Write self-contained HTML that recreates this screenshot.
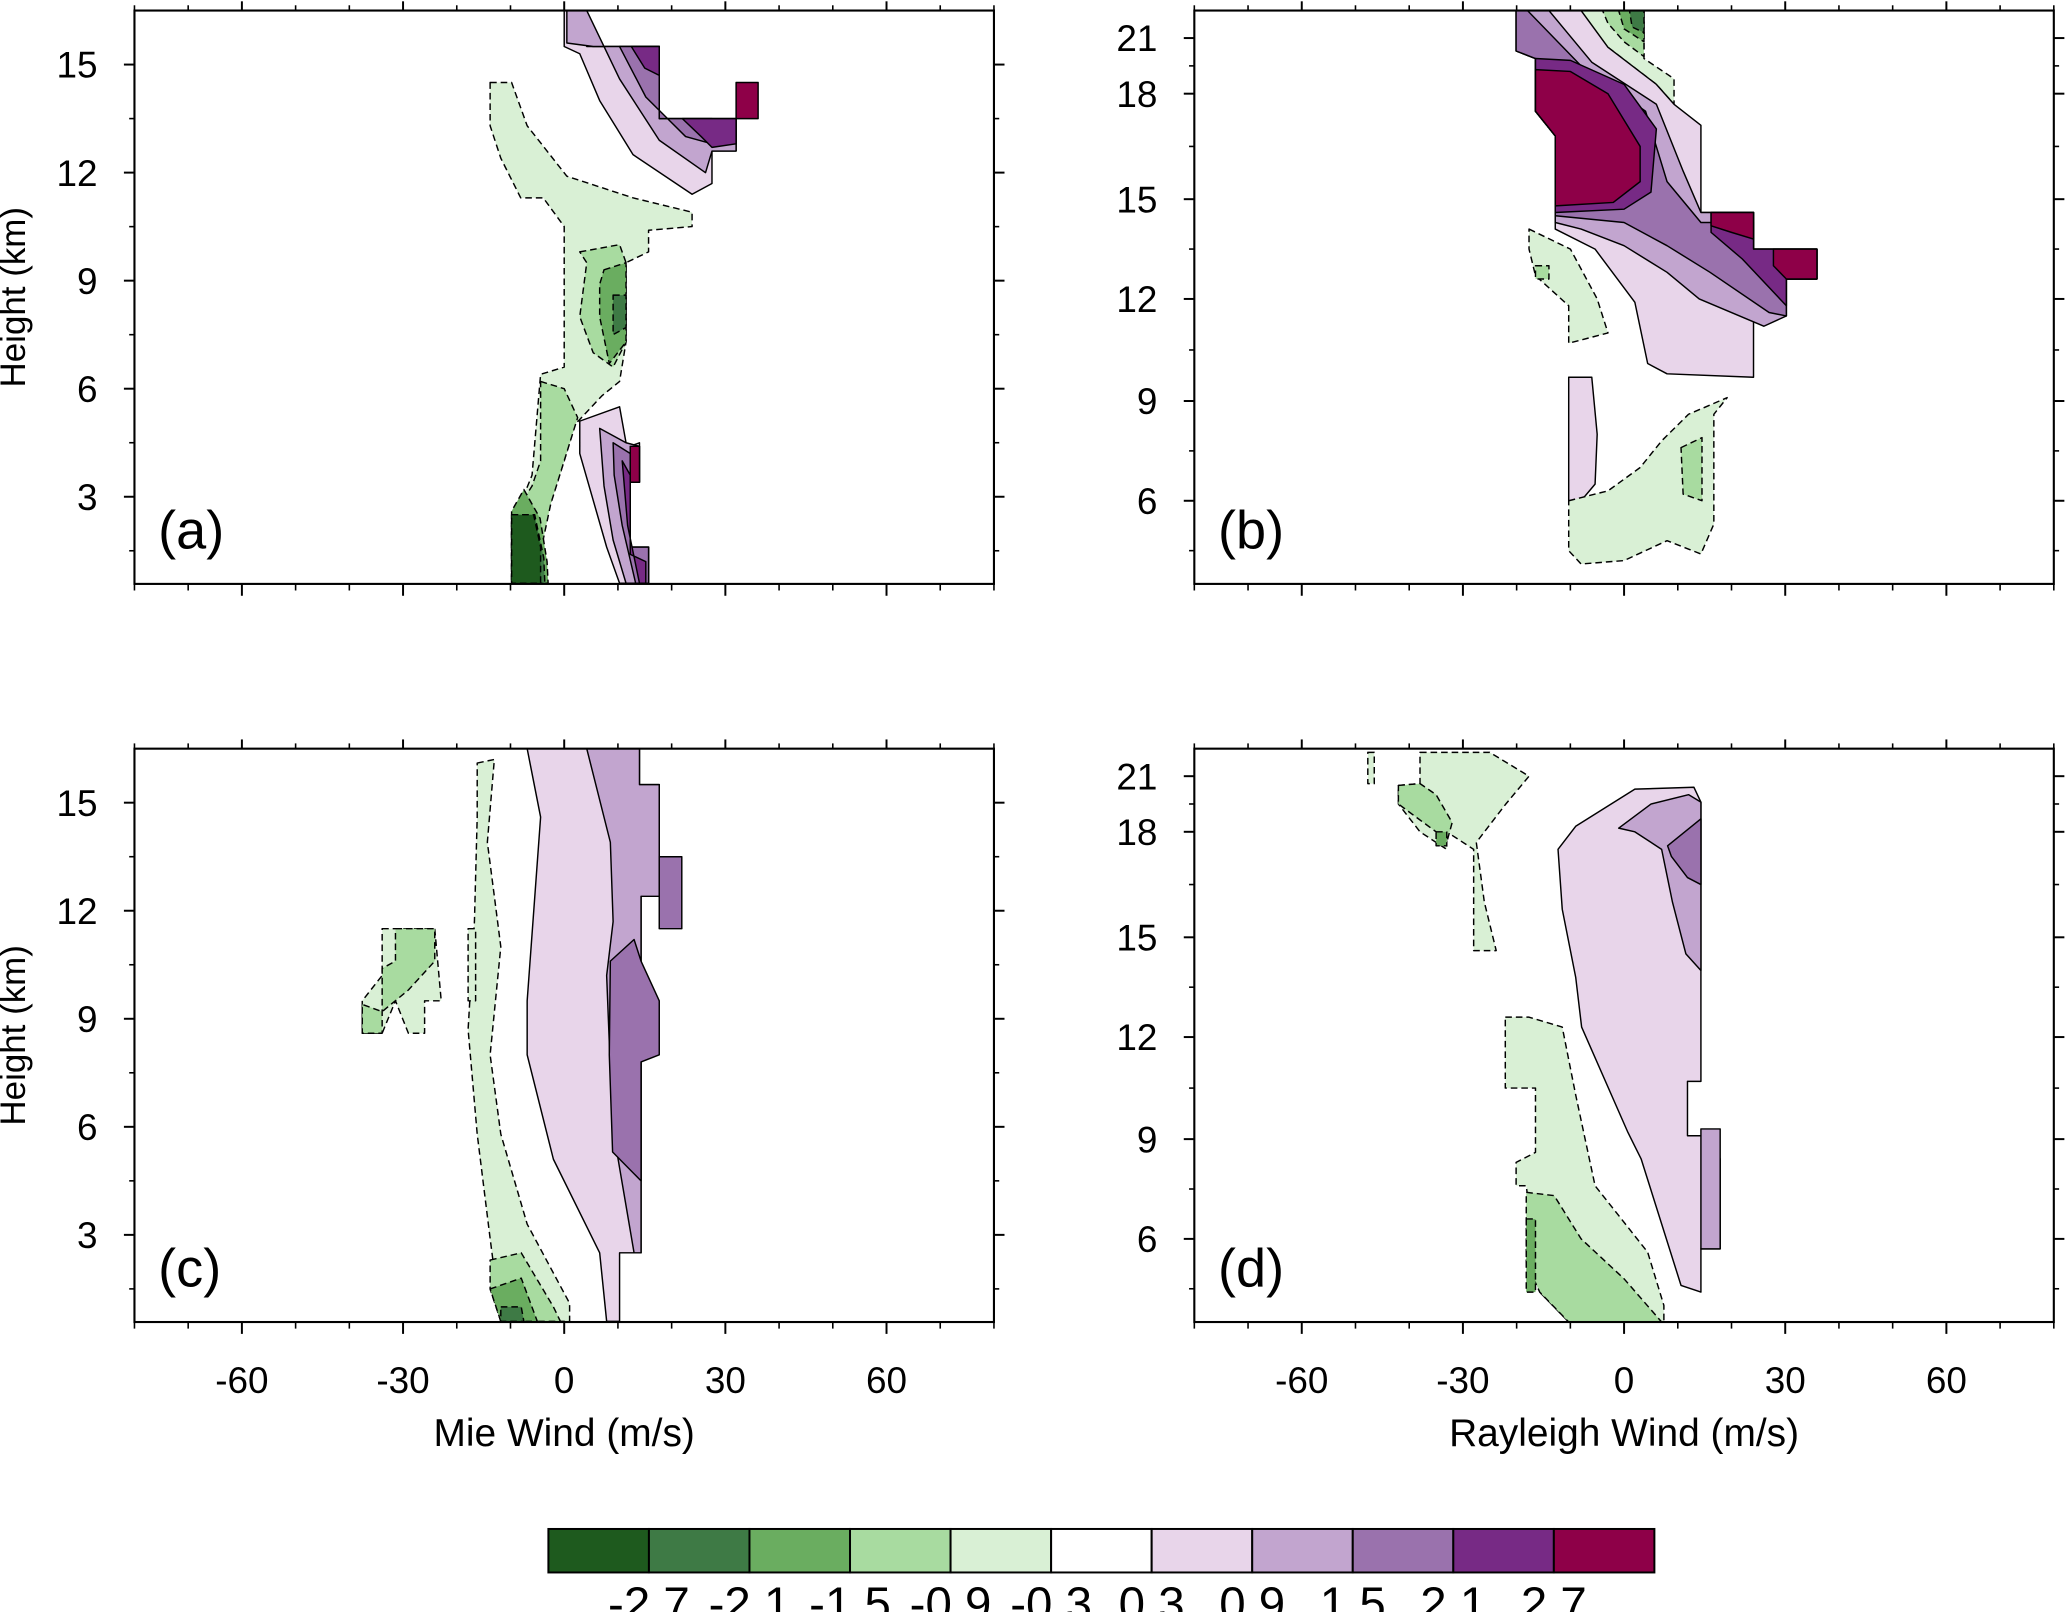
<!DOCTYPE html>
<html><head><meta charset="utf-8"><style>
html,body{margin:0;padding:0;background:#fff;}
svg{display:block;}
text{font-family:"Liberation Sans",sans-serif;fill:#000;}
</style></head><body>
<svg id="fig" width="2067" height="1612" viewBox="0 0 1568 1223" preserveAspectRatio="none" xmlns="http://www.w3.org/2000/svg"></svg>
<script>
const levelColors=["#1e5a1e","#3e7a45","#6aad60","#a8dba0","#d9f0d5","#ffffff","#e8d5ea","#c2a5cf","#9a72ad","#772a85","#8e0048"];
const colorbarLabels=["-2.7","-2.1","-1.5","-0.9","-0.3","0.3","0.9","1.5","2.1","2.7"];
const windTicks=[-60,-30,0,30,60];
const windMinor=[-80,-70,-50,-40,-20,-10,10,20,40,50,70,80];
const heightTicksMie=[3,6,9,12,15];
const heightTicksRay=[6,9,12,15,18,21];
const panelLabels=["(a)","(b)","(c)","(d)"];
// contour regions: [level, [[wind, height],...]]
const regionsA=[
[4,[[-13.8,14.5],[-9.8,14.5],[-6.9,13.3],[0.5,11.9],[12.8,11.3],[23.8,10.9],[23.8,10.5],[15.7,10.4],[15.7,9.8],[11.5,9.5],[11.5,7.3],[10.3,6.2],[7,5.8],[2,5],[0,4],[-3,2.6],[-5,1.5],[-5.7,0.6],[-9.8,0.6],[-9.8,2.2],[-6,3.6],[-4.4,6.4],[0,6.6],[0,10.5],[-3.9,11.3],[-8.1,11.3],[-11.8,12.4],[-13.8,13.3]]],
[3,[[2.9,9.8],[10.3,10],[11.5,9.5],[11.5,7.3],[9.1,6.6],[5.4,7],[2.9,8.0],[4.2,9.5]]],
[2,[[7.4,9.3],[11.5,9.5],[11.5,7.3],[8.4,6.7],[6.6,8],[6.6,8.9]]],
[1,[[9.1,8.6],[11.5,8.6],[11.5,7.7],[9.1,7.5]]],
[3,[[-4.4,6.2],[0,6],[2.5,5.2],[0,4],[-2.5,2.8],[-4.5,1.4],[-5.7,0.6],[-9.8,0.6],[-9.8,2.4],[-6,3.3],[-4.4,4]]],
[2,[[-7.5,3.2],[-4.5,2.4],[-3.2,1.2],[-3,0.6],[-9.8,0.6],[-9.8,2.6]]],
[1,[[-9.8,2.5],[-5.5,2.5],[-3.8,1.3],[-3.6,0.6],[-9.8,0.6]]],
[0,[[-9.8,2.5],[-5.7,2.5],[-4.4,1.6],[-4.4,0.6],[-9.8,0.6]]],
[6,[[0,16.5],[4.2,16.5],[4.2,15.5],[17.7,15.5],[17.7,13.5],[32,13.5],[32,12.6],[27.5,12.6],[27.5,11.7],[23.8,11.4],[12.8,12.5],[6.6,14],[2.9,15.3],[0,15.5]]],
[7,[[4.2,16.5],[0.5,16.5],[0.5,15.6],[5.4,15.5],[17.7,15.5],[17.7,13.5],[32,13.5],[32,12.6],[27.5,12.6],[26.3,12],[17.7,12.9],[10.3,14.6]]],
[8,[[10.3,15.5],[17.7,15.5],[17.7,13.5],[27.5,13.5],[27.5,12.8],[22.6,13],[15.2,14.1]]],
[9,[[12.5,15.5],[17.7,15.5],[17.7,14.7],[15,14.9]]],
[9,[[22,13.5],[32,13.5],[32,12.8],[27.5,12.7],[25.5,13]]],
[10,[[32,14.5],[36.1,14.5],[36.1,13.5],[32,13.5]]],
[6,[[2.9,5.1],[10.3,5.5],[11.5,4.5],[12.3,4.4],[14,4.5],[14,3.4],[12.3,3.4],[12.3,1.6],[15.7,1.6],[15.7,0.6],[10.3,0.6],[7.9,1.6],[5.4,2.9],[2.9,4.2]]],
[7,[[6.6,4.9],[11.5,4.5],[14,4.4],[14,3.4],[12.3,3.4],[12.3,1.6],[15.7,1.6],[15.7,0.6],[11.5,0.6],[9.1,1.8],[7.4,3.3]]],
[8,[[9.1,4.5],[12.3,4.2],[12.3,1.6],[15.7,1.6],[15.7,0.6],[13.3,0.6],[10.8,2.2],[9.3,3.6]]],
[9,[[10.8,4],[12.3,3.6],[12.3,1.4],[15.2,1.2],[15.2,0.6],[14,0.6],[11.8,2.2]]],
[10,[[12.3,4.4],[14,4.4],[14,3.4],[12.3,3.4]]]
];
const regionsB=[
[4,[[-8,22.5],[3.7,22.5],[3.7,19.9],[9.3,18.8],[9.3,17.7],[6,18.5],[-3,20.5],[-7,21.8]]],
[3,[[-4,22.5],[3.7,22.5],[3.7,20],[0,20.8],[-3,21.8]]],
[2,[[-1,22.5],[3.7,22.5],[3.7,20.8],[0,21.5]]],
[1,[[1,22.5],[3.7,22.5],[3.7,21.3],[1.5,21.6]]],
[6,[[-20.1,22.5],[-8,22.5],[-3,20.5],[6,18.5],[9.3,17.7],[14.3,17.1],[14.3,14.6],[24.1,14.6],[24.1,13.5],[35.9,13.5],[35.9,12.6],[30.2,12.6],[30.2,11.5],[24.1,11.5],[24.1,9.7],[8,9.8],[4.4,10.1],[2,11.9],[-5.4,13.5],[-12.8,14.1],[-12.8,16.8],[-16.5,17.5],[-16.5,19.9],[-20.1,20.3]]],
[7,[[-20.1,22.5],[-14,22.5],[-6,19.7],[6,17.7],[11,15.8],[14.3,14.6],[24.1,14.6],[24.1,13.5],[35.9,13.5],[35.9,12.6],[30.2,12.6],[30.2,11.5],[26,11.2],[14,12],[8,12.8],[0,13.6],[-8,14.1],[-12.8,14.3],[-12.8,16.8],[-16.5,17.5],[-16.5,19.9],[-20.1,20.3]]],
[8,[[-20.1,22.5],[-18,22.5],[-8,19.5],[4,17.5],[8,15.5],[14.3,14.3],[24.1,14.3],[24.1,13.5],[35.9,13.5],[35.9,12.6],[30.2,12.6],[30.2,11.5],[27,11.6],[16,12.8],[8,13.6],[0,14.3],[-12.8,14.5],[-12.8,16.8],[-16.5,17.5],[-16.5,19.9],[-20.1,20.3]]],
[9,[[-16.5,19.9],[-16.5,17.5],[-12.8,16.8],[-12.8,14.6],[0,14.7],[5,15.2],[6,17],[0,18.5],[-10,19.8]]],
[9,[[16.2,14.6],[24.1,14.6],[24.1,13.5],[35.9,13.5],[35.9,12.6],[30.2,12.6],[30.2,11.8],[22,13.2],[16.2,14]]],
[10,[[-16.5,19.3],[-16.5,17.5],[-12.8,16.8],[-12.8,14.8],[-2,14.9],[3,15.5],[3,16.5],[-3,18],[-10,19.2]]],
[10,[[16.2,14.6],[24.1,14.6],[24.1,13.8],[20,14.0],[16.2,14.2]]],
[10,[[27.8,13.5],[35.9,13.5],[35.9,12.6],[30.2,12.6],[27.8,13]]],
[4,[[-17.7,14.1],[-10,13.5],[-5,12],[-3,11],[-10.3,10.7],[-10.3,11.8],[-16.5,12.7],[-17.7,13.5]]],
[3,[[-16.5,13],[-14,13],[-14,12.6],[-16.5,12.6]]],
[6,[[-10.3,9.7],[-6,9.7],[-5,8],[-5.4,6.5],[-8,6],[-10.3,6]]],
[4,[[-10.3,6],[-3,6.3],[3,7],[7,7.8],[12,8.6],[19.2,9.1],[16.7,8.6],[16.7,5.3],[14.3,4.4],[8,4.8],[0,4.2],[-8,4.1],[-10.3,4.5]]],
[3,[[10.6,7.6],[14.5,7.9],[14.5,6],[11,6.2]]]
];
const regionsC=[
[4,[[-16.2,16.1],[-13,16.2],[-14.3,13.9],[-13,12.4],[-11.8,11],[-13.8,8],[-11.8,5.8],[-6.9,3.3],[1,1.1],[1,0.6],[-11.8,0.6],[-13.8,2.9],[-16.2,5.8],[-17.9,8.7],[-16.7,11.7],[-16.2,14.6]]],
[4,[[-17.9,11.5],[-16.5,11.5],[-16.5,9.5],[-17.9,9.5]]],
[4,[[-33.9,11.5],[-24.1,11.5],[-22.9,9.5],[-26,9.5],[-26,8.6],[-29,8.6],[-31.4,9.5],[-33.9,8.6],[-37.6,8.6],[-37.6,9.5],[-33.9,10.2]]],
[3,[[-31.4,11.5],[-24.1,11.5],[-24.1,10.6],[-29,9.8],[-33.9,9.2],[-37.6,9.4],[-37.6,8.6],[-33.9,8.6],[-33.9,10.4],[-31.4,10.6]]],
[3,[[-13.8,2.3],[-8,2.5],[-2,1],[-0.7,0.6],[-11.8,0.6],[-13.8,1.5]]],
[2,[[-13.8,1.5],[-8,1.8],[-5,0.6],[-11.8,0.6]]],
[1,[[-11.8,1.0],[-8,1.0],[-7.5,0.6],[-11.8,0.6]]],
[6,[[-6.9,16.5],[14,16.5],[14,15.5],[17.7,15.5],[17.7,12.4],[14.3,12.4],[14.3,2.5],[10.3,2.5],[10.3,0.6],[7.9,0.6],[6.6,2.5],[-2,5.1],[-6.9,8],[-6.9,9.5],[-4.4,14.6]]],
[7,[[4.2,16.5],[14,16.5],[14,15.5],[17.7,15.5],[17.7,12.4],[14.3,12.4],[14.3,2.5],[13,2.5],[9,6],[7.9,10.2],[9.1,11.7],[8.6,13.9]]],
[8,[[8.6,10.6],[13,11.2],[14.3,10.6],[17.7,9.5],[17.7,8],[14.3,7.8],[14.3,4.5],[9,5.3],[8.4,8]]],
[8,[[17.7,13.5],[21.9,13.5],[21.9,11.5],[17.7,11.5]]]
];
const regionsD=[
[4,[[-38,22.3],[-25,22.3],[-17.7,21],[-22,19.5],[-27.5,17.7],[-26,16],[-23.8,14.6],[-28,14.6],[-28,17.5],[-33,18],[-33,17.5],[-38,18],[-42,19.5],[-42,20.5],[-38,20.6]]],
[3,[[-42,20.5],[-38,20.6],[-35,20],[-32,18.5],[-33,17.7],[-35,18],[-42,19.5]]],
[2,[[-35,18],[-33,18],[-33,17.6],[-35,17.6]]],
[4,[[-47.7,22.3],[-46.5,22.3],[-46.5,20.6],[-47.7,20.6]]],
[4,[[-22.1,12.6],[-17.7,12.6],[-11.5,12.3],[-9,10.3],[-5.4,7.6],[4.4,5.6],[7.4,4],[7.4,3.5],[-10.3,3.5],[-15.7,4.4],[-18.2,7.6],[-20.1,7.6],[-20.1,8.3],[-16.5,8.6],[-16.5,10.5],[-22.1,10.5]]],
[3,[[-18.2,7.4],[-13,7.3],[-8,6],[0,4.8],[7,3.5],[-10.3,3.5],[-15.7,4.4],[-18.2,5.3]]],
[2,[[-18.2,6.6],[-16.5,6.6],[-16.5,4.4],[-18.2,4.4]]],
[6,[[-12.3,17.5],[-9,18.3],[2,20.3],[13,20.4],[14.3,19.6],[14.3,10.7],[11.8,10.7],[11.8,9.1],[16.7,9.1],[17.9,8.4],[17.9,5.7],[14.3,5.7],[14.3,4.4],[10.6,4.6],[3.2,8.4],[0.7,9.2],[-7.9,12.3],[-9,13.8],[-11.5,15.8]]],
[7,[[-1,18.2],[5,19.5],[12,20],[14.3,19.6],[14.3,14],[11.5,14.5],[9,16],[7,17.5],[2,18]]],
[7,[[14.3,9.3],[17.9,9.3],[17.9,5.7],[14.3,5.7]]],
[8,[[8.1,17.6],[14.3,18.7],[14.3,16.5],[11.8,16.7],[8.8,17.3]]]
];

const NS="http://www.w3.org/2000/svg";
const svg=document.getElementById('fig');
function el(tag,attrs,parent){const e=document.createElementNS(NS,tag);for(const k in attrs)e.setAttribute(k,attrs[k]);(parent||svg).appendChild(e);return e;}

const panels=[
{x0:102,y0:8,w:652,h:435,ray:false,regions:regionsA,label:0,name:'panel-a'},
{x0:906,y0:8,w:652,h:435,ray:true,regions:regionsB,label:1,name:'panel-b'},
{x0:102,y0:568,w:652,h:435,ray:false,regions:regionsC,label:2,name:'panel-c'},
{x0:906,y0:568,w:652,h:435,ray:true,regions:regionsD,label:3,name:'panel-d'}
];
function xScale(p,v){return p.x0+(v+80)/160*p.w;}
function yScale(p,hgt){
  if(!p.ray){return p.y0+p.h-(hgt-0.58)/(16.5-0.58)*p.h;}
  const hk=[3.5,6,9,12,15,18,21,22.5], fk=[0,0.145,0.319,0.497,0.671,0.855,0.952,1.0];
  let f;
  if(hgt<=hk[0])f=fk[0];else if(hgt>=hk[7])f=1;else{
    for(let i=0;i<7;i++){if(hgt>=hk[i]&&hgt<=hk[i+1]){f=fk[i]+(hgt-hk[i])/(hk[i+1]-hk[i])*(fk[i+1]-fk[i]);break;}}
  }
  return p.y0+p.h-f*p.h;
}

panels.forEach(p=>{
  const g=el('g',{});
  
  
  const clip=el('clipPath',{id:'clip-'+p.name},g);
  el('rect',{x:p.x0,y:p.y0,width:p.w,height:p.h},clip);
  const cg=el('g',{'clip-path':'url(#clip-'+p.name+')'},g);
  p.regions.forEach((r,i)=>{
    const pts=r[1].map(q=>xScale(p,q[0]).toFixed(1)+','+yScale(p,q[1]).toFixed(1)).join(' ');
    const poly=el('polygon',{points:pts,fill:levelColors[r[0]],stroke:'#000','stroke-width':1.1,'stroke-dasharray':r[0]<5?'5,3':'none','stroke-linejoin':'round'},cg);
    
    
  });
  const frame=el('rect',{x:p.x0,y:p.y0,width:p.w,height:p.h,fill:'none',stroke:'#000','stroke-width':1.6},g);
  
  
  windTicks.forEach(v=>{
    const x=xScale(p,v);
    el('line',{x1:x,x2:x,y1:p.y0+p.h,y2:p.y0+p.h+9,stroke:'#000','stroke-width':1.5},g);
    el('line',{x1:x,x2:x,y1:p.y0,y2:p.y0-7,stroke:'#000','stroke-width':1.5},g);
    if(p.y0>500){
      const t=el('text',{x:x,y:p.y0+p.h+54,'font-size':28,'text-anchor':'middle'},g);
      t.textContent=String(v);
      
      
    }
  });
  windMinor.forEach(v=>{
    const x=xScale(p,v);
    el('line',{x1:x,x2:x,y1:p.y0+p.h,y2:p.y0+p.h+5,stroke:'#000','stroke-width':1.2},g);
    el('line',{x1:x,x2:x,y1:p.y0,y2:p.y0-4,stroke:'#000','stroke-width':1.2},g);
  });
  const hticks=p.ray?heightTicksRay:heightTicksMie;
  hticks.forEach(v=>{
    const y=yScale(p,v);
    el('line',{x1:p.x0,x2:p.x0-8,y1:y,y2:y,stroke:'#000','stroke-width':1.5},g);
    el('line',{x1:p.x0+p.w,x2:p.x0+p.w+8,y1:y,y2:y,stroke:'#000','stroke-width':1.5},g);
    const m=yScale(p,v-1.5);
    if(m<p.y0+p.h){
      el('line',{x1:p.x0,x2:p.x0-4,y1:m,y2:m,stroke:'#000','stroke-width':1.2},g);
      el('line',{x1:p.x0+p.w,x2:p.x0+p.w+4,y1:m,y2:m,stroke:'#000','stroke-width':1.2},g);
    }
    const t=el('text',{x:p.x0-28,y:y+10,'font-size':28,'text-anchor':'end'},g);
    t.textContent=String(v);
    
    
  });
  const lb=el('text',{x:p.x0+18,y:p.y0+p.h-27,'font-size':41},g);
  lb.textContent=panelLabels[p.label];
  
  
  if(!p.ray){
    const yt=el('text',{x:0,y:0,'font-size':26.5,'text-anchor':'middle',transform:'translate(19,'+(p.y0+p.h/2)+') rotate(-90)'},g);
    yt.textContent='Height (km)';
    
    
  }
  if(p.y0>500){
    const xt=el('text',{x:p.x0+p.w/2,y:1097,'font-size':29.5,'text-anchor':'middle'},g);
    xt.textContent=p.ray?'Rayleigh Wind (m/s)':'Mie Wind (m/s)';
    
    
  }
});

const cb=el('g',{});


const cbX=416,cbW=839,cbY=1160,cbH=33,bw=cbW/levelColors.length;
levelColors.forEach((c,i)=>{
  const r=el('rect',{x:cbX+i*bw,y:cbY,width:bw,height:cbH,fill:c,stroke:'#000','stroke-width':1.5},cb);
  
  
});
colorbarLabels.forEach((s,i)=>{
  const t=el('text',{x:cbX+(i+1)*bw,y:1229,'font-size':36,'text-anchor':'middle'},cb);
  t.textContent=s;
  
  
});
</script>
</body></html>
